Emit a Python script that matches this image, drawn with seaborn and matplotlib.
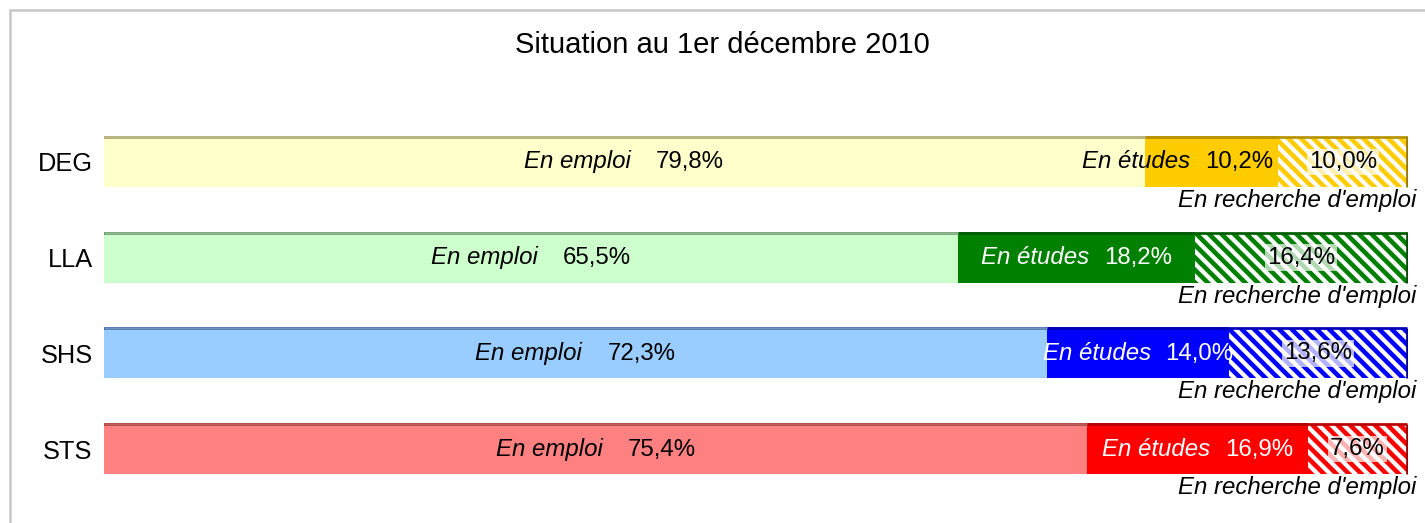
import numpy as np
import pandas as pd
import matplotlib.pyplot as plt
import matplotlib.colors as mcolors
from matplotlib.patches import Rectangle
from matplotlib.offsetbox import TextArea, HPacker, AnnotationBbox
import seaborn as sns

# Data (percent of graduates, situation au 1er decembre 2010)
categories = ['DEG', 'LLA', 'SHS', 'STS']
en_emploi = [79.8, 65.5, 72.3, 75.4]
en_etudes = [10.2, 18.2, 14.0, 16.9]
en_recherche = [10.0, 16.4, 13.6, 7.6]

light_colors = ['#FFFFCC', '#CCFFCC', '#99CCFF', '#FF8080']
dark_colors = ['#FFCC00', '#008000', '#0000FF', '#FF0000']
etudes_text_colors = ['black', 'white', 'white', 'white']


def fmt(v):
    return f'{v:.1f}%'.replace('.', ',')


def darker(c, f=0.72):
    r, g, b = mcolors.to_rgb(c)
    return (r * f, g * f, b * f)


sns.set_style('white')
plt.rcParams['font.family'] = ['Liberation Sans', 'DejaVu Sans']
plt.rcParams['hatch.linewidth'] = 2.2

df = pd.DataFrame({'filiere': categories, 'emploi': en_emploi,
                   'etudes': en_etudes, 'recherche': en_recherche})
df['cum2'] = df['emploi'] + df['etudes']
df['cum3'] = df['cum2'] + df['recherche']

fig = plt.figure(figsize=(1425 / 150, 523 / 150), dpi=150)
ax = fig.add_axes([104 / 1425, 1 - 497 / 523, 1304 / 1425, 383 / 523])

bar_w = 0.52
common = dict(data=df, y='filiere', hue='filiere', saturation=1, width=bar_w,
              legend=False, ax=ax, orient='h')

# stacked bars: draw the cumulative totals back to front
sns.barplot(x='cum3', palette=['white'] * len(categories), **common)
hatched = list(ax.patches)
sns.barplot(x='cum2', palette=dark_colors, **common)
mid = list(ax.patches)[len(hatched):]
sns.barplot(x='emploi', palette=light_colors, **common)
first = list(ax.patches)[len(hatched) + len(mid):]

for p, c in zip(hatched, dark_colors):
    p.set_hatch('\\' * 4)
    p.set_edgecolor(c)
    p.set_linewidth(0)
for p in mid + first:
    p.set_linewidth(0)

ax.set_xlim(0, 100)
ax.set_ylim(len(categories) - 0.5, -0.5)

# thin darker top edge (pseudo 3D look)
for group, cols in [(hatched, dark_colors), (mid, dark_colors), (first, light_colors)]:
    for p, c in zip(group, cols):
        x0 = p.get_x()
        x1 = min(p.get_x() + p.get_width(), 100)
        y0 = p.get_y()
        ax.plot([x0, x1], [y0, y0], color=darker(c), lw=1.3, solid_capstyle='butt', zorder=5)
for p, c in zip(hatched, dark_colors):
    x1 = min(p.get_x() + p.get_width(), 99.93)
    ax.plot([x1, x1], [p.get_y(), p.get_y() + p.get_height()], color=darker(c, 0.6),
            lw=1.3, solid_capstyle='butt', zorder=5)

fs = 11.5


def add_pair(x, y, italic, number, color, sep, align):
    t1 = TextArea(italic, textprops=dict(style='italic', size=fs, color=color))
    t2 = TextArea(number, textprops=dict(size=fs, color=color))
    box = HPacker(children=[t1, t2], sep=sep, align='baseline', pad=0)
    ab = AnnotationBbox(box, (x, y), xycoords='data', box_alignment=(align, 0.5),
                        frameon=False, pad=0, zorder=6)
    ax.add_artist(ab)


for i, cat in enumerate(categories):
    e1, e2, e3 = en_emploi[i], en_etudes[i], en_recherche[i]
    add_pair(e1 / 2, i, 'En emploi', fmt(e1), 'black', 12, 0.5)
    if e2 < 12:
        add_pair(e1 + e2 - 0.35, i, 'En études', fmt(e2), etudes_text_colors[i], 7, 1.0)
    else:
        add_pair(e1 + e2 / 2, i, 'En études', fmt(e2), etudes_text_colors[i], 7, 0.5)
    ax.text(min(e1 + e2 + e3 / 2, 100 - e3 / 2), i, fmt(e3), ha='center', va='center',
            size=fs, color='black', zorder=6,
            bbox=dict(facecolor='white', alpha=0.7, edgecolor='none', pad=1))
    ax.annotate("En recherche d'emploi", (100, i + bar_w / 2), xytext=(4, -1),
                textcoords='offset points', ha='right', va='top',
                style='italic', size=fs, color='black', annotation_clip=False)

ax.set_xlabel('')
ax.set_ylabel('')
ax.set_xticks([])
ax.tick_params(axis='y', length=0, pad=5.5, labelsize=12.2, labelcolor='black')
sns.despine(ax=ax, left=True, bottom=True)

fig.text(722 / 1425, 1 - 45 / 523, 'Situation au 1er décembre 2010',
         ha='center', va='center', size=14, color='black')

# light grey chart frame (only top and left visible in the crop)
fig.add_artist(Rectangle((10 / 1425, -0.5), 2, 1.5 - 10 / 523, transform=fig.transFigure,
                         fill=False, edgecolor='#c8c8c8', lw=1.2))

fig.savefig('out.png', dpi=150)
